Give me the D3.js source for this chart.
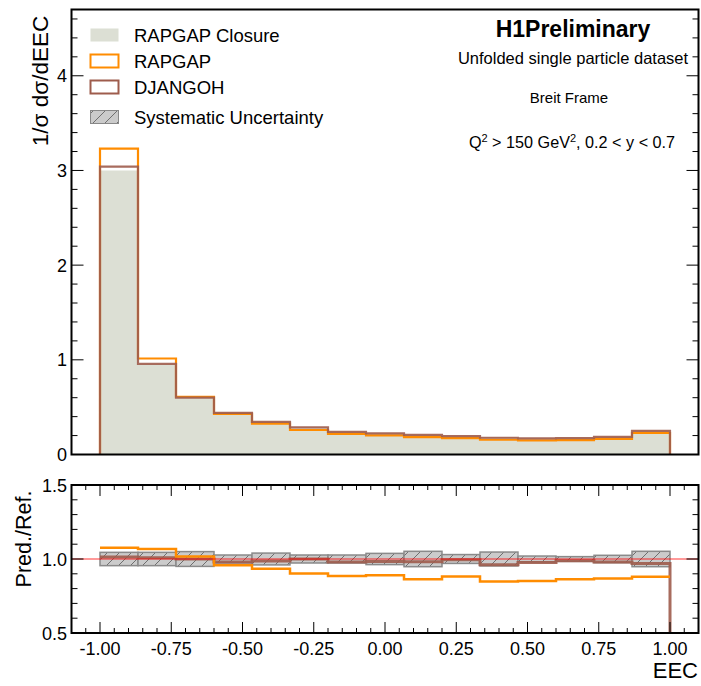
<!DOCTYPE html>
<html><head><meta charset="utf-8">
<script src="https://cdn.jsdelivr.net/npm/d3@7"></script>
<style>body{margin:0;background:#fff}svg{display:block}text{font-family:"Liberation Sans",Arial,sans-serif}</style>
</head><body><svg id="c" width="701" height="686"></svg>
<script>
// ---- data ----
const binEdges = d3.range(16).map(i => -1 + i * 2 / 15);
const closure = [3.00, 0.95, 0.60, 0.449, 0.35, 0.287, 0.245, 0.227, 0.212, 0.195, 0.184, 0.175, 0.176, 0.190, 0.258];
const rapgap  = [3.23, 1.014, 0.61, 0.43, 0.327, 0.259, 0.217, 0.202, 0.183, 0.172, 0.156, 0.149, 0.152, 0.165, 0.227];
const djangoh = [3.04, 0.958, 0.60, 0.44, 0.345, 0.287, 0.24, 0.223, 0.208, 0.194, 0.177, 0.171, 0.174, 0.186, 0.25];
const sysErr  = [0.045, 0.045, 0.05, 0.027, 0.04, 0.027, 0.027, 0.038, 0.052, 0.03, 0.047, 0.02, 0.016, 0.025, 0.052];
const mainTicks = [0, 1, 2, 3, 4];
const ratioTicks = [0.5, 1.0, 1.5];
const xTicks = [-1, -0.75, -0.5, -0.25, 0, 0.25, 0.5, 0.75, 1];
const legendLabels = ["RAPGAP Closure", "RAPGAP", "DJANGOH", "Systematic Uncertainty"];
const infoTexts = ["Unfolded single particle dataset", "Breit Frame"];

const C_FILL = "#dcdfd4", C_RAP = "#ff8c00", C_DJ = "#9e5c4c";
const svg = d3.select("#c");
const L = 71.5, R = 698.5;
const x = d3.scaleLinear().domain([-1.1, 1.1]).range([L, R]);
const y = d3.scaleLinear().domain([0, 4.7]).range([454.5, 9.5]);
const yr = d3.scaleLinear().domain([0.5, 1.5]).range([633, 485]);

// hatch pattern
const defs = svg.append("defs");
const pat = defs.append("pattern").attr("id", "hatch").attr("patternUnits", "userSpaceOnUse")
  .attr("width", 12).attr("height", 12);
pat.append("rect").attr("width", 12).attr("height", 12).attr("fill", "#cbcbcb");
pat.append("path").attr("d", "M-3,15 L15,-3 M-3,3 L3,-3 M9,15 L15,9").attr("stroke", "#6f6f6f").attr("stroke-width", 1);
defs.append("clipPath").attr("id", "clipR").append("rect").attr("x", L).attr("y", 485).attr("width", R - L).attr("height", 148);

function stepPts(vals, ys, drop) {
  const pts = [];
  if (drop) pts.push([x(binEdges[0]), ys(0)]);
  vals.forEach((v, i) => { pts.push([x(binEdges[i]), ys(v)]); pts.push([x(binEdges[i + 1]), ys(v)]); });
  return pts;
}
const line = d3.line();

// ---- main panel ----
const area = d3.area().x(d => d[0]).y0(y(0)).y1(d => d[1]);
svg.append("path").attr("d", area(stepPts(closure, y, false))).attr("fill", C_FILL);
const endDrop = (vals, ys, base) => { const p = stepPts(vals, ys, true); p.push([x(1), ys(base)]); return p; };
svg.append("path").attr("d", line(endDrop(rapgap, y, 0))).attr("fill", "none").attr("stroke", C_RAP).attr("stroke-width", 2.2);
svg.append("path").attr("d", line(endDrop(djangoh, y, 0))).attr("fill", "none").attr("stroke", C_DJ).attr("stroke-width", 2.2).attr("stroke-opacity", 0.9);

const axG = svg.append("g").attr("stroke", "#000");
d3.range(0, 4.61, 0.2).forEach(v => {
  const major = Math.abs(v - Math.round(v)) < 1e-6;
  const len = major ? 12 : 6;
  axG.append("line").attr("x1", L).attr("x2", L + len).attr("y1", y(v)).attr("y2", y(v)).attr("stroke-width", 1);
  axG.append("line").attr("x1", R).attr("x2", R - len).attr("y1", y(v)).attr("y2", y(v)).attr("stroke-width", 1);
});
svg.append("rect").attr("x", L).attr("y", 9.5).attr("width", R - L).attr("height", 445)
  .attr("fill", "none").attr("stroke", "#000").attr("stroke-width", 2);
mainTicks.forEach(v => svg.append("text").attr("x", 67).attr("y", y(v) + 6.5).attr("text-anchor", "end")
  .attr("font-size", 18).text(v));
svg.append("text").attr("transform", "translate(48,81) rotate(-90)").attr("text-anchor", "middle")
  .attr("font-size", 22.5).text("1/σ dσ/dEEC");

// legend
const legY = [35, 61, 87, 117];
legendLabels.forEach((t, i) => {
  const r = svg.append("rect").attr("x", 90.5).attr("y", legY[i] - 6.5).attr("width", 28).attr("height", 13);
  if (i === 0) r.attr("fill", C_FILL);
  if (i === 1) r.attr("fill", "none").attr("stroke", C_RAP).attr("stroke-width", 2);
  if (i === 2) r.attr("fill", "none").attr("stroke", C_DJ).attr("stroke-width", 2);
  if (i === 3) r.attr("fill", "url(#hatch)").attr("stroke", "#888").attr("stroke-width", 1);
  svg.append("text").attr("x", 134).attr("y", legY[i] + 6.5).attr("font-size", 18.5).text(t);
});

// info text
svg.append("text").attr("x", 573).attr("y", 37).attr("text-anchor", "middle").attr("font-size", 23).attr("font-weight", "bold").text("H1Preliminary");
svg.append("text").attr("x", 573).attr("y", 64).attr("text-anchor", "middle").attr("font-size", 16.5).text(infoTexts[0]);
svg.append("text").attr("x", 569).attr("y", 103).attr("text-anchor", "middle").attr("font-size", 15).text(infoTexts[1]);
const q = svg.append("text").attr("x", 572).attr("y", 148).attr("text-anchor", "middle").attr("font-size", 16.2);
q.append("tspan").text("Q");
q.append("tspan").attr("dy", -6).attr("font-size", 11).text("2");
q.append("tspan").attr("dy", 6).text(" > 150 GeV");
q.append("tspan").attr("dy", -6).attr("font-size", 11).text("2");
q.append("tspan").attr("dy", 6).text(", 0.2 < y < 0.7");

// ---- ratio panel ----
const rg = svg.append("g").attr("clip-path", "url(#clipR)");
sysErr.forEach((e, i) => {
  rg.append("rect").attr("x", x(binEdges[i])).attr("width", x(binEdges[i + 1]) - x(binEdges[i]))
    .attr("y", yr(1 + e)).attr("height", yr(1 - e) - yr(1 + e))
    .attr("fill", "url(#hatch)").attr("stroke", "#8a8a8a").attr("stroke-width", 1.5);
});
const rDJ = djangoh.map((v, i) => v / closure[i]);
const rRap = rapgap.map((v, i) => v / closure[i]);
const djPts = stepPts(rDJ, yr, false); djPts.push([x(1), yr(0.5)]);
rg.append("path").attr("d", line(djPts)).attr("fill", "none").attr("stroke", C_DJ).attr("stroke-width", 3).attr("stroke-opacity", 0.9);
rg.append("path").attr("d", line(stepPts(rRap, yr, false))).attr("fill", "none").attr("stroke", C_RAP).attr("stroke-width", 2.5);
rg.append("line").attr("x1", L).attr("x2", R).attr("y1", yr(1)).attr("y2", yr(1)).attr("stroke", "#ff0000").attr("stroke-width", 0.8);

const ag = svg.append("g").attr("stroke", "#000").attr("stroke-width", 1);
d3.range(0.5, 1.501, 0.1).forEach(v => {
  const major = Math.abs(v * 2 - Math.round(v * 2)) < 1e-6;
  const len = major ? 12 : 6;
  ag.append("line").attr("x1", L).attr("x2", L + len).attr("y1", yr(v)).attr("y2", yr(v));
  ag.append("line").attr("x1", R).attr("x2", R - len).attr("y1", yr(v)).attr("y2", yr(v));
});
d3.range(-1.1, 1.1001, 0.05).forEach(v => {
  const major = Math.abs(v * 4 - Math.round(v * 4)) < 1e-6 && v >= -1.0001 && v <= 1.0001;
  const len = major ? 11 : 5;
  ag.append("line").attr("x1", x(v)).attr("x2", x(v)).attr("y1", 633).attr("y2", 633 - len);
  ag.append("line").attr("x1", x(v)).attr("x2", x(v)).attr("y1", 485).attr("y2", 485 + len);
});
svg.append("rect").attr("x", L).attr("y", 485).attr("width", R - L).attr("height", 148)
  .attr("fill", "none").attr("stroke", "#000").attr("stroke-width", 2);
ratioTicks.forEach(v => svg.append("text").attr("x", 67).attr("y", yr(v) + 6.5).attr("text-anchor", "end")
  .attr("font-size", 18).text(v.toFixed(1)));
xTicks.forEach(v => svg.append("text").attr("x", x(v)).attr("y", 655).attr("text-anchor", "middle")
  .attr("font-size", 18).text(v.toFixed(2)));
svg.append("text").attr("transform", "translate(31,539) rotate(-90)").attr("text-anchor", "middle")
  .attr("font-size", 21.5).text("Pred./Ref.");
svg.append("text").attr("x", 698).attr("y", 678).attr("text-anchor", "end").attr("font-size", 22).text("EEC");
</script></body></html>
